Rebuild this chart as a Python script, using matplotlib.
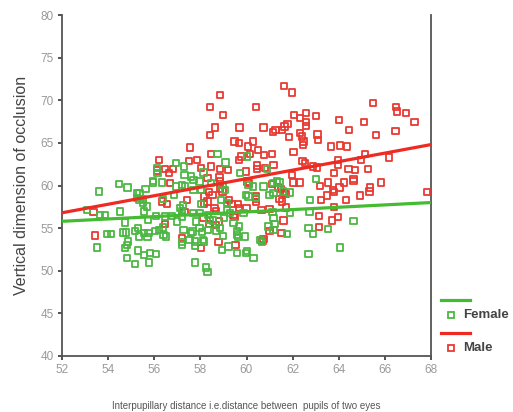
import numpy as np
import matplotlib.pyplot as plt
from matplotlib.lines import Line2D

plt.rcParams['font.family'] = ['Liberation Sans', 'DejaVu Sans']

# Male points (interpupillary distance, vertical dimension)
male_x = [61.62, 61.98, 58.84, 58.41, 60.40, 65.47, 66.47, 66.51, 66.90, 67.28,
          58.97, 62.05, 62.32, 62.58, 62.58, 62.58, 63.02, 64.00, 65.09, 64.46,
          59.70, 60.74, 58.64, 61.78, 61.65, 61.55, 61.26, 61.14, 61.85, 62.32,
          62.41, 62.47, 62.44, 63.08, 63.11, 65.62, 66.46, 58.41, 59.48, 59.68,
          60.29, 60.08, 57.56, 63.67, 64.06, 64.35, 62.04, 60.50, 60.14, 59.78,
          59.69, 60.77, 61.11, 58.45, 57.85, 57.49, 56.22, 65.13, 66.19, 63.96,
          64.97, 62.43, 62.54, 61.17, 60.45, 62.87, 63.05, 63.96, 64.42, 64.71,
          65.26, 58.47, 58.02, 56.45, 56.81, 56.12, 56.64, 58.86, 59.19, 60.45,
          60.81, 59.99, 63.79, 64.64, 64.64, 61.98, 62.04, 62.30, 60.04, 60.11,
          58.83, 58.86, 56.69, 58.31, 61.11, 65.83, 63.55, 64.24, 64.03, 63.17,
          65.36, 65.33, 63.74, 63.80, 63.48, 64.92, 67.83, 61.38, 61.50, 58.86,
          58.96, 58.53, 58.37, 58.15, 58.31, 57.42, 60.40, 60.41, 60.41, 61.72,
          61.43, 61.55, 61.63, 63.24, 64.32, 63.78, 59.62, 59.69, 59.23, 59.35,
          58.61, 58.68, 56.55, 56.35, 58.17, 60.00, 60.65, 61.00, 61.72, 53.37,
          58.14, 59.44, 59.48, 58.80, 58.69, 58.38, 63.13, 63.70, 63.96, 63.16,
          61.60, 61.52, 56.45, 53.43, 57.20, 61.00, 60.74, 60.69, 58.04, 59.52,
          58.79, 57.31]
male_y = [71.68, 70.90, 70.66, 69.18, 69.18, 69.65, 69.18, 68.67, 68.48, 67.42,
          68.24, 68.24, 67.89, 68.48, 67.46, 67.00, 68.16, 67.70, 67.42, 66.52,
          66.80, 66.80, 66.80, 67.23, 66.91, 66.52, 66.52, 66.29, 65.66, 66.13,
          65.74, 65.16, 64.77, 65.98, 65.35, 65.90, 66.41, 65.90, 65.16, 64.96,
          65.16, 64.57, 64.45, 64.57, 64.69, 64.57, 63.91, 64.18, 63.67, 63.40,
          63.00, 63.59, 63.67, 63.67, 63.00, 62.89, 63.00, 63.71, 63.28, 63.00,
          63.00, 62.89, 62.62, 62.42, 62.34, 62.23, 62.11, 62.42, 61.95, 61.84,
          61.95, 62.23, 62.03, 61.91, 61.91, 61.76, 61.45, 61.95, 61.84, 61.91,
          62.03, 61.64, 61.45, 60.74, 60.55, 61.25, 60.35, 60.35, 60.47, 60.27,
          60.94, 60.47, 60.27, 60.86, 60.16, 60.35, 60.35, 60.35, 59.77, 59.96,
          59.77, 59.30, 59.49, 59.22, 58.83, 58.83, 59.22, 59.77, 59.61, 59.61,
          59.30, 58.91, 59.22, 58.71, 58.13, 58.32, 58.79, 58.40, 58.05, 59.02,
          58.44, 58.13, 59.10, 58.32, 58.32, 57.46, 57.81, 57.34, 58.32, 57.85,
          57.34, 57.03, 57.85, 58.13, 57.81, 57.34, 57.15, 57.23, 57.42, 56.88,
          56.17, 56.56, 56.29, 55.78, 55.39, 55.51, 56.45, 55.90, 56.29, 55.12,
          55.90, 54.41, 55.51, 54.14, 53.87, 54.69, 53.71, 53.52, 52.66, 53.01,
          53.36, 56.88]

# Female points
female_x = [53.08, 53.60, 53.52, 53.66, 53.85, 53.95, 54.14, 54.48, 54.84, 54.53,
            54.74, 54.64, 54.79, 54.86, 54.82, 54.74, 54.82, 55.18, 55.25, 55.36,
            55.25, 55.36, 55.51, 55.62, 55.51, 55.54, 55.68, 55.73, 55.15, 55.29,
            55.33, 55.54, 55.71, 55.75, 55.29, 55.54, 55.78, 55.83, 56.09, 55.94,
            55.94, 56.07, 56.12, 56.14, 56.33, 56.38, 56.38, 56.04, 56.19, 56.52,
            56.40, 56.94, 56.87, 56.99, 56.46, 56.77, 57.20, 57.30, 57.31, 57.20,
            56.95, 57.34, 57.60, 57.70, 57.13, 57.24, 57.20, 57.27, 57.20, 57.20,
            57.53, 57.66, 57.61, 57.75, 57.75, 57.75, 57.81, 57.68, 57.70, 57.96,
            58.04, 58.04, 57.99, 57.96, 58.06, 58.13, 58.17, 58.24, 58.31, 58.14,
            58.47, 58.33, 58.40, 58.54, 58.33, 58.69, 58.74, 59.09, 58.96, 59.08,
            58.91, 59.15, 59.15, 59.29, 59.03, 58.86, 58.97, 58.95, 59.22, 59.44,
            59.58, 59.58, 59.62, 59.58, 59.69, 59.87, 59.94, 59.73, 60.01, 59.99,
            60.09, 60.09, 60.27, 60.01, 59.97, 60.30, 60.59, 60.66, 60.74, 60.88,
            61.00, 61.14, 61.17, 61.13, 61.17, 61.21, 61.17, 61.32, 61.43, 61.57,
            61.86, 61.75, 61.89, 62.69, 62.69, 62.73, 62.76, 62.87, 63.02, 63.55,
            64.06, 64.64, 60.95, 60.40]
female_y = [57.15, 59.30, 52.73, 56.56, 56.56, 54.34, 54.34, 60.16, 59.77, 56.95,
            55.66, 54.49, 54.49, 53.44, 53.05, 52.66, 51.48, 50.78, 59.10, 59.10,
            58.52, 58.32, 58.40, 59.61, 57.93, 56.95, 57.54, 55.94, 54.69, 55.00,
            54.02, 54.41, 53.95, 54.41, 52.38, 51.88, 50.98, 52.07, 51.95, 60.51,
            60.35, 56.45, 62.03, 61.45, 60.35, 58.40, 55.08, 54.69, 54.80, 54.02,
            54.22, 62.62, 58.91, 55.78, 56.37, 56.45, 56.37, 62.23, 61.25, 60.08,
            59.88, 59.88, 61.05, 60.66, 57.34, 57.73, 56.95, 54.80, 53.36, 53.05,
            53.63, 54.61, 54.41, 53.44, 52.93, 50.98, 55.78, 56.76, 59.49, 60.47,
            59.49, 57.85, 56.76, 55.00, 54.53, 53.63, 53.44, 50.39, 49.84, 61.52,
            60.27, 56.56, 55.98, 55.90, 54.80, 54.73, 63.71, 62.70, 60.08, 59.49,
            58.32, 57.93, 57.15, 56.76, 56.17, 55.00, 54.10, 52.46, 52.85, 55.59,
            54.61, 54.18, 53.95, 52.07, 55.20, 56.76, 54.02, 61.45, 63.40, 58.91,
            58.71, 60.08, 59.88, 52.34, 52.07, 51.48, 53.63, 53.36, 59.88, 61.91,
            58.91, 60.27, 59.10, 56.88, 56.17, 55.51, 54.80, 60.47, 60.35, 59.30,
            59.18, 54.34, 56.76, 55.00, 51.95, 56.88, 58.32, 54.34, 60.78, 54.92,
            52.73, 55.86, 55.20, 58.52]

# fit lines as drawn (value at x = 52 and x = 68)
fit_x = [52, 68]
male_fit = [56.8, 64.8]
female_fit = [55.8, 58.0]

red = '#e83a32'
green = '#4cb744'

fig = plt.figure(figsize=(5.13, 4.12), dpi=100)
ax = fig.add_axes([62 / 513, 1 - 356 / 412, 369 / 513, 341 / 412])

ax.scatter(male_x, male_y, marker='s', s=20, facecolors='none',
           edgecolors=red, linewidths=1.3, zorder=3)
ax.scatter(female_x, female_y, marker='s', s=20, facecolors='none',
           edgecolors=green, linewidths=1.3, zorder=3)
ax.plot(fit_x, male_fit, color='#ee2a22', lw=2.3, zorder=4)
ax.plot(fit_x, female_fit, color='#44bb33', lw=2.3, zorder=4)

ax.set_xlim(52, 68)
ax.set_ylim(40, 80)
ax.set_xticks(np.arange(52, 69, 2))
ax.set_yticks(np.arange(40, 81, 5))
ax.tick_params(length=3, width=1.2, color='#333333', labelsize=8.5,
               labelcolor='#999999', pad=3)
ax.spines['top'].set_visible(False)
for s in ['left', 'bottom', 'right']:
    ax.spines[s].set_color('#555555')
    ax.spines[s].set_linewidth(1.3)

ax.set_ylabel('Vertical dimension of occlusion', fontsize=11.5,
              color='#444444', labelpad=8)
fig.text(246 / 513, 1 - 406 / 412,
         'Interpupillary distance i.e.distance between  pupils of two eyes',
         fontsize=7, color='#555555', ha='center', va='center')

# legend outside on the right
def fx(px):
    return px / 513

def fy(py):
    return 1 - py / 412

fig.add_artist(Line2D([fx(441), fx(470)], [fy(300), fy(300)],
                      color='#44bb33', lw=2.3))
fig.add_artist(Line2D([fx(451)], [fy(315)], marker='s', ms=4, mfc='none',
                      mec=green, mew=1.3, ls='none'))
fig.text(fx(463), fy(315), 'Female', fontsize=9.5, fontweight='bold',
         color='#444444', va='center')
fig.add_artist(Line2D([fx(441), fx(470)], [fy(333), fy(333)],
                      color='#ee2a22', lw=2.3))
fig.add_artist(Line2D([fx(451)], [fy(348)], marker='s', ms=4, mfc='none',
                      mec=red, mew=1.3, ls='none'))
fig.text(fx(463), fy(348), 'Male', fontsize=9.5, fontweight='bold',
         color='#444444', va='center')

plt.savefig('out.png', dpi=100)
